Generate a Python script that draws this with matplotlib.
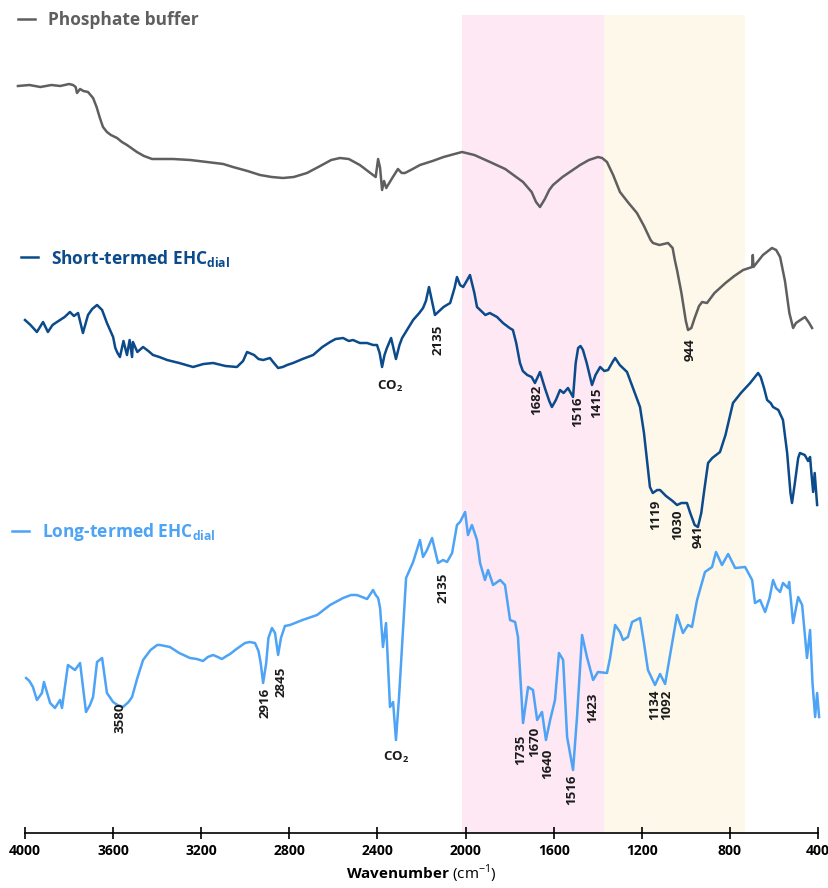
"""FTIR spectra of phosphate buffer and EHC dialysates, stacked with offsets."""

import matplotlib

matplotlib.use("Agg")
import matplotlib.pyplot as plt
from matplotlib.ticker import FixedLocator

plt.rcParams["font.family"] = ["Open Sans", "DejaVu Sans"]
plt.rcParams["mathtext.fontset"] = "custom"
plt.rcParams["mathtext.rm"] = "Open Sans"
plt.rcParams["mathtext.bf"] = "Open Sans:bold"

# wavenumber (cm-1) / offset intensity (a.u.)
buffer_wn = [4032, 3980, 3930, 3880, 3840, 3800, 3782, 3770, 3764, 3750, 3735, 3714, 3691,
             3675, 3660, 3646, 3628, 3610, 3582, 3560, 3537, 3492, 3460, 3423, 3328, 3250,
             3174, 3100, 3056, 2990, 2933, 2880, 2829, 2780, 2720, 2660, 2610, 2570, 2530,
             2480, 2420, 2408, 2397, 2388, 2379, 2370, 2360, 2352, 2330, 2307, 2290, 2275,
             2240, 2207, 2150, 2100, 2050, 2016, 1960, 1889, 1820, 1739, 1700, 1680, 1662,
             1640, 1620, 1603, 1560, 1520, 1480, 1440, 1399, 1380, 1358, 1330, 1299, 1260,
             1222, 1190, 1160, 1149, 1120, 1081, 1060, 1050, 1040, 1020, 1000, 990, 975,
             960, 940, 926, 904, 870, 820, 780, 740, 699, 696, 693, 650, 609, 590, 572,
             550, 530, 513, 500, 480, 459, 440, 427]
buffer_y = [747, 748, 746, 748, 747, 749, 748, 746, 740, 744, 742, 741, 735,
            726, 715, 706, 701, 698, 695, 691, 688, 681, 677, 674, 674, 673,
            671, 669, 666, 662, 658, 656, 655, 656, 660, 667, 673, 675, 674,
            668, 658, 656, 674, 665, 643, 652, 645, 648, 656, 664, 660, 660,
            664, 668, 672, 676, 679, 681, 678, 671, 664, 651, 641, 631, 626,
            634, 643, 648, 656, 662, 668, 673, 676, 675, 671, 658, 641, 630,
            620, 607, 593, 590, 588, 590, 585, 573, 563, 540, 512, 503, 505,
            515, 527, 531, 530, 540, 550, 557, 563, 566, 578, 566, 578, 585, 583, 576,
            552, 520, 505, 510, 513, 516, 510, 505]

short_wn = [4000, 3975, 3946, 3918, 3896, 3875, 3855, 3820, 3796, 3778, 3759, 3737, 3714,
            3695, 3673, 3650, 3628, 3600, 3590, 3580, 3569, 3553, 3537, 3525, 3514, 3510,
            3490, 3464, 3440, 3419, 3390, 3355, 3300, 3237, 3190, 3146, 3090, 3038, 3010,
            2992, 2960, 2940, 2919, 2888, 2870, 2851, 2830, 2810, 2783, 2740, 2692, 2650,
            2615, 2590, 2556, 2530, 2511, 2480, 2447, 2420, 2402, 2390, 2379, 2368, 2357,
            2338, 2316, 2300, 2288, 2260, 2238, 2210, 2193, 2180, 2166, 2139, 2100, 2070,
            2050, 2039, 2025, 2011, 1995, 1980, 1960, 1948, 1934, 1910, 1890, 1857, 1830,
            1800, 1785, 1770, 1753, 1740, 1720, 1700, 1685, 1662, 1640, 1620, 1608, 1590,
            1571, 1555, 1535, 1512, 1500, 1489, 1478, 1467, 1450, 1426, 1410, 1389, 1370,
            1353, 1330, 1321, 1300, 1267, 1240, 1208, 1190, 1175, 1163, 1150, 1130, 1117,
            1090, 1060, 1040, 1020, 995, 980, 960, 945, 930, 915, 899, 880, 845, 820, 786,
            750, 708, 690, 672, 660, 645, 631, 615, 604, 580, 559, 540, 525, 518, 505, 490,
            482, 460, 445, 436, 430, 422, 415, 404]
short_y = [513, 508, 501, 511, 501, 508, 511, 516, 521, 517, 520, 500, 518,
           524, 528, 523, 510, 496, 485, 480, 476, 492, 478, 493, 476, 491,
           481, 486, 482, 478, 476, 473, 470, 466, 469, 470, 467, 466, 472,
           481, 478, 474, 473, 475, 470, 465, 466, 468, 470, 474, 478, 486,
           491, 494, 495, 492, 493, 490, 490, 488, 488, 480, 466, 478, 485,
           495, 474, 488, 495, 505, 513, 520, 525, 532, 546, 518, 526, 530,
           545, 556, 548, 546, 552, 558, 540, 526, 523, 518, 520, 516, 510,
           505, 503, 490, 470, 462, 458, 456, 450, 461, 445, 432, 426, 433,
           443, 440, 445, 436, 470, 485, 487, 483, 470, 448, 458, 466, 462,
           463, 472, 475, 468, 461, 445, 426, 400, 370, 346, 340, 343, 343,
           337, 332, 328, 330, 330, 320, 308, 306, 320, 345, 370, 375, 381, 398, 430,
           440, 450, 455, 460, 456, 445, 433, 430, 426, 423, 413, 380, 340, 330, 350, 375,
           380, 378, 372, 376, 360, 341, 360, 328]

long_wn = [3995, 3980, 3964, 3946, 3923, 3914, 3886, 3864, 3841, 3832, 3805, 3773, 3750,
           3723, 3705, 3691, 3673, 3650, 3628, 3600, 3580, 3555, 3530, 3514, 3490, 3464,
           3430, 3400, 3387, 3342, 3300, 3251, 3220, 3192, 3170, 3146, 3125, 3106, 3085,
           3069, 3040, 3001, 2980, 2956, 2940, 2930, 2919, 2905, 2895, 2879, 2865, 2851,
           2838, 2820, 2797, 2740, 2674, 2615, 2556, 2520, 2493, 2470, 2447, 2420, 2408,
           2397, 2388, 2375, 2361, 2343, 2329, 2316, 2302, 2270, 2238, 2207, 2193, 2175,
           2152, 2125, 2102, 2084, 2061, 2039, 2025, 2002, 1989, 1971, 1948, 1934, 1912,
           1898, 1875, 1843, 1821, 1798, 1775, 1762, 1739, 1716, 1694, 1675, 1653, 1635,
           1616, 1594, 1576, 1557, 1539, 1512, 1494, 1471, 1449, 1421, 1399, 1358, 1344,
           1321, 1299, 1285, 1263, 1244, 1208, 1190, 1172, 1140, 1117, 1094, 1070, 1040,
           1013, 990, 972, 949, 913, 881, 863, 836, 808, 776, 731, 699, 686, 663, 640,
           620, 604, 590, 572, 559, 536, 531, 513, 490, 472, 450, 436, 425, 413, 404, 395]
long_y = [155, 152, 146, 133, 140, 151, 130, 125, 133, 125, 168, 163, 170,
          121, 128, 136, 171, 175, 140, 131, 128, 126, 131, 136, 155, 173,
          183, 188, 188, 186, 180, 175, 174, 172, 176, 178, 176, 174, 177,
          179, 184, 190, 191, 190, 182, 170, 150, 170, 195, 205, 200, 178,
          195, 207, 208, 213, 218, 228, 235, 238, 238, 236, 234, 243, 238,
          235, 225, 186, 210, 126, 131, 93, 136, 255, 271, 293, 276, 283,
          295, 270, 273, 271, 280, 308, 311, 321, 298, 308, 293, 270, 253,
          263, 248, 253, 248, 213, 211, 196, 110, 146, 143, 113, 121, 93,
          113, 133, 180, 173, 96, 63, 116, 198, 176, 153, 161, 160, 175,
          208, 201, 193, 196, 211, 215, 190, 163, 148, 159, 149, 180, 218,
          200, 208, 206, 233, 261, 266, 281, 268, 279, 265, 266, 253, 230, 233, 221,
          235, 253, 245, 241, 250, 245, 251, 210, 236, 228, 175, 203, 150, 116, 140, 116]

series_labels = ["Phosphate buffer",
                 r"Short-termed EHC$_{\mathbf{dial}}$",
                 r"Long-termed EHC$_{\mathbf{dial}}$"]
series_colors = ["#5f5f5f", "#0b4a8b", "#4da3f5"]

# peak labels: (text, wavenumber, height)
short_peaks = [("944", 981, 483), ("2135", 2125, 493), ("1682", 1676, 433),
               ("1516", 1489, 421), ("1415", 1403, 430), ("1119", 1135, 318),
               ("1030", 1035, 308), ("941", 945, 296)]
long_peaks = [("3580", 3569, 115), ("2916", 2910, 130), ("2845", 2838, 151),
              ("2135", 2102, 245), ("1735", 1748, 83), ("1670", 1685, 91),
              ("1640", 1627, 69), ("1516", 1516, 43), ("1423", 1421, 125),
              ("1134", 1142, 128), ("1092", 1085, 128)]
co2_marks = [(2343, 447), (2316, 76)]

pink_band = (2015, 1370)
cream_band = (1370, 730)
x_ticks = [4000, 3600, 3200, 2800, 2400, 2000, 1600, 1200, 800, 400]

fig = plt.figure(figsize=(8.29, 8.88), dpi=100)
ax = fig.add_axes([25 / 829, 55 / 888, 793 / 829, 818 / 888])

ax.axvspan(*pink_band, color="#fde8f4", lw=0, zorder=0)
ax.axvspan(*cream_band, color="#fdf8ea", lw=0, zorder=0)

lines = []
for wn, y, color, label in zip([buffer_wn, short_wn, long_wn],
                               [buffer_y, short_y, long_y],
                               series_colors, series_labels):
    (ln,) = ax.plot(wn, y, color=color, lw=1.8, label=label, clip_on=False,
                    solid_joinstyle="round")
    lines.append(ln)

for text, wn, h in short_peaks + long_peaks:
    ax.text(wn, h, text, rotation=90, ha="center", va="center",
            fontsize=9.5, fontweight="bold", color="#1a1a1a")
for wn, h in co2_marks:
    ax.text(wn, h, r"CO$_\mathbf{2}$", ha="center", va="center", fontsize=9.5,
            fontweight="bold", color="#1a1a1a")

ax.set_xlim(4000, 400)
ax.set_ylim(0, 818)
ax.xaxis.set_major_locator(FixedLocator(x_ticks))
ax.tick_params(axis="x", direction="inout", length=8, width=1.2,
               labelsize=10, pad=4)
for lab in ax.get_xticklabels():
    lab.set_fontweight("bold")
ax.set_yticks([])
for side in ["left", "right", "top"]:
    ax.spines[side].set_visible(False)
ax.spines["bottom"].set_linewidth(1.2)
ax.set_xlabel(r"$\mathbf{Wavenumber}$ (cm$^{-1}$)", fontsize=11, labelpad=3)

legend_anchor = [(18 / 829, 1 - 20 / 888), (21 / 829, 1 - 258 / 888), (12 / 829, 1 - 532 / 888)]
for ln, anchor in zip(lines, legend_anchor):
    fig.legend(handles=[ln], loc="center left", bbox_to_anchor=anchor,
               frameon=False, handlelength=1.0, handletextpad=0.7,
               borderpad=0, borderaxespad=0, labelcolor="linecolor",
               prop={"family": "Open Sans", "weight": "bold", "size": 12.5})

fig.savefig("out.png", dpi=100)
